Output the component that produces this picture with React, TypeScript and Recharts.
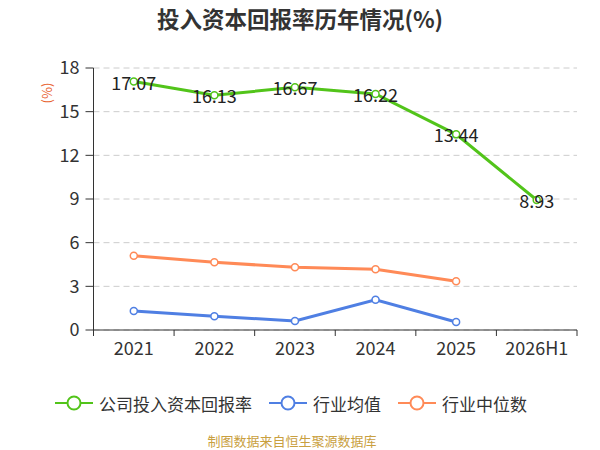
import React from "react";
import { LineChart, Line, XAxis, YAxis, CartesianGrid, LabelList } from "recharts";

const categories = ["2021", "2022", "2023", "2024", "2025", "2026H1"];
const companyROIC = [17.07, 16.13, 16.67, 16.22, 13.44, 8.93];
const industryAvg = [1.31, 0.94, 0.62, 2.08, 0.55, null];
const industryMedian = [5.1, 4.65, 4.31, 4.17, 3.35, null];
const yTicks = [0, 3, 6, 9, 12, 15, 18];
const seriesNames = ["公司投入资本回报率", "行业均值", "行业中位数"];
const seriesColors = ["#52c41a", "#4f7fe3", "#ff8a57"];

const data = categories.map((c, i) => ({
  name: c,
  company: companyROIC[i],
  avg: industryAvg[i],
  median: industryMedian[i],
}));

const W = 600;
const H = 450;
const M = { top: 68, right: 23, left: 0, bottom: 0 };
const Y_W = 93.5;
const X_H = 120;
const BAND = (W - Y_W - M.right) / categories.length;
const FONT = "'Noto Sans CJK SC', 'Noto Sans', sans-serif";

const XTick = (props: any) => {
  const { x, y, payload, index } = props;
  const last = index === categories.length - 1;
  return (
    <g>
      <line x1={x - BAND / 2} x2={x - BAND / 2} y1={y - 8} y2={y - 2} stroke="#333" strokeWidth={1} />
      {last && <line x1={x + BAND / 2} x2={x + BAND / 2} y1={y - 8} y2={y - 2} stroke="#333" strokeWidth={1} />}
      <text x={x} y={y + 4} dy="0.71em" textAnchor="middle" fill="#333" fontSize={18} fontFamily={FONT}>
        {payload.value}
      </text>
    </g>
  );
};

const dot = (color: string) => ({ r: 3.5, fill: "#fff", stroke: color, strokeWidth: 1.5 });

const LegendIcon = ({ color }: { color: string }) => (
  <svg width={38} height={16} style={{ display: "block" }}>
    <line x1={0} x2={38} y1={8} y2={8} stroke={color} strokeWidth={2} />
    <circle cx={19} cy={8} r={6.5} fill="#fff" stroke={color} strokeWidth={2} />
  </svg>
);

export default function App() {
  const legendX = [55, 269, 398];
  return (
    <div style={{ position: "absolute", left: 0, top: 0, width: W, height: H, background: "#fff", fontFamily: FONT }}>
      <div
        style={{
          position: "absolute",
          left: 0,
          top: 3,
          width: W,
          textAlign: "center",
          fontSize: 22.5,
          fontWeight: "bold",
          color: "#333",
          lineHeight: "30px",
        }}
      >
        投入资本回报率历年情况(%)
      </div>
      <div
        style={{
          position: "absolute",
          left: 47 - 20,
          top: 93 - 9,
          width: 40,
          height: 18,
          textAlign: "center",
          fontSize: 13,
          lineHeight: "18px",
          color: "#e8602c",
          transform: "rotate(-90deg)",
        }}
      >
        (%)
      </div>
      <LineChart width={W} height={H} data={data} margin={M} style={{ position: "absolute", left: 0, top: 0 }}>
        <CartesianGrid horizontal vertical={false} stroke="#ccc" strokeDasharray="6 4" />
        <XAxis
          dataKey="name"
          height={X_H}
          axisLine={{ stroke: "#333" }}
          tickLine={false}
          tick={<XTick />}
          interval={0}
          padding={{ left: BAND / 2, right: BAND / 2 }}
        />
        <YAxis
          width={Y_W}
          domain={[0, 18]}
          ticks={yTicks}
          interval={0}
          axisLine={{ stroke: "#333" }}
          tickLine={{ stroke: "#333" }}
          tickSize={8}
          tickMargin={6}
          tick={{ fill: "#333", fontSize: 18, fontFamily: FONT }}
        />
        <Line
          dataKey="median"
          stroke={seriesColors[2]}
          strokeWidth={3}
          dot={dot(seriesColors[2])}
          activeDot={false}
          isAnimationActive={false}
        />
        <Line
          dataKey="avg"
          stroke={seriesColors[1]}
          strokeWidth={3}
          dot={dot(seriesColors[1])}
          activeDot={false}
          isAnimationActive={false}
        />
        <Line
          dataKey="company"
          stroke={seriesColors[0]}
          strokeWidth={3}
          dot={dot(seriesColors[0])}
          activeDot={false}
          isAnimationActive={false}
        >
          <LabelList
            dataKey="company"
            content={(p: any) => (
              <text
                x={p.x}
                y={p.y}
                textAnchor="middle"
                dominantBaseline="central"
                fontSize={18}
                fill="#222"
                fontFamily={FONT}
              >
                {p.value}
              </text>
            )}
          />
        </Line>
      </LineChart>
      {seriesNames.map((n, i) => (
        <div
          key={n}
          style={{
            position: "absolute",
            left: legendX[i],
            top: 391,
            height: 24,
            display: "flex",
            alignItems: "center",
            gap: 6,
            fontSize: 17,
            color: "#333",
            whiteSpace: "nowrap",
          }}
        >
          <LegendIcon color={seriesColors[i]} />
          <span>{n}</span>
        </div>
      ))}
      <div
        style={{
          position: "absolute",
          left: 0,
          top: 432,
          width: 584,
          textAlign: "center",
          fontSize: 13,
          color: "#c9a040",
          lineHeight: "18px",
        }}
      >
        制图数据来自恒生聚源数据库
      </div>
    </div>
  );
}
